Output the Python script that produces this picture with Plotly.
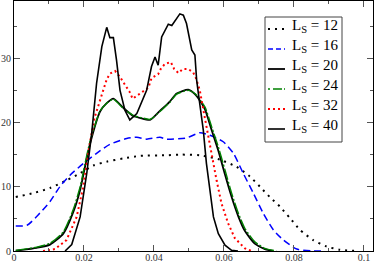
import plotly.graph_objects as go

# ---- data ----
x12 = [0.0005, 0.0055, 0.0103, 0.015, 0.0189, 0.0227, 0.0265, 0.0312, 0.036, 0.0436, 0.0474, 0.0531,
       0.0589, 0.0636, 0.0674, 0.0703, 0.0731, 0.076, 0.0789, 0.0817, 0.0855, 0.0893, 0.0931, 0.098]
y12 = [8.4, 9.0, 9.8, 11.0, 12.1, 13.3, 13.9, 14.4, 14.8, 14.9, 15.0, 14.9,
       14.2, 13.1, 11.6, 10.0, 8.4, 6.9, 5.1, 3.3, 1.7, 0.7, 0.2, 0.0]

x16 = [0.0005, 0.0037, 0.0074, 0.0103, 0.0131, 0.016, 0.0198, 0.0236, 0.0274, 0.0322, 0.0351, 0.0379,
       0.0417, 0.0436, 0.0493, 0.0531, 0.056, 0.0598, 0.0627, 0.0655, 0.0684, 0.0712, 0.0741, 0.077,
       0.0808, 0.0855, 0.0883]
y16 = [3.9, 4.0, 5.9, 7.7, 10.0, 11.8, 13.6, 15.2, 16.6, 17.5, 17.7, 17.4,
       17.7, 17.4, 17.6, 18.4, 18.0, 17.0, 15.2, 12.1, 9.0, 5.9, 3.3, 1.7,
       0.3, 0.0, 0.0]

x20 = [0.0005, 0.0065, 0.0103, 0.0141, 0.0169, 0.0189, 0.0203, 0.0217, 0.0246, 0.0265, 0.0284, 0.0312,
       0.0341, 0.036, 0.0389, 0.0417, 0.0446, 0.0465, 0.0498, 0.0517, 0.0531, 0.0546, 0.0565, 0.0584,
       0.0603, 0.0622, 0.0641, 0.066, 0.0689, 0.0717, 0.074]
y20 = [0.05, 0.5, 1.0, 2.7, 6.0, 9.5, 13.1, 16.6, 21.7, 23.0, 23.7, 22.3,
       21.0, 20.7, 20.4, 21.8, 23.3, 24.5, 25.1, 24.4, 23.4, 22.0, 18.8, 15.6,
       11.9, 8.4, 5.4, 3.1, 1.1, 0.3, 0.0]

x24 = [0.0005, 0.0065, 0.0103, 0.0141, 0.0169, 0.0189, 0.0203, 0.0217, 0.0246, 0.0265, 0.0284, 0.0312,
       0.0341, 0.036, 0.0389, 0.0417, 0.0446, 0.0465, 0.0498, 0.0517, 0.0531, 0.0546, 0.0565, 0.0584,
       0.0603, 0.0622, 0.0641, 0.066, 0.0689, 0.0717, 0.075]
y24 = [0.1, 0.6, 1.2, 3.0, 6.4, 10.0, 13.6, 17.0, 21.8, 23.0, 23.6, 22.2,
       21.1, 20.8, 20.5, 21.7, 23.2, 24.4, 25.0, 24.5, 23.6, 22.4, 19.3, 16.2,
       12.6, 9.0, 5.9, 3.5, 1.4, 0.4, 0.0]

x32 = [0.0083, 0.0117, 0.015, 0.0179, 0.0198, 0.0217, 0.0231, 0.0246, 0.0255, 0.0265, 0.0274, 0.0289,
       0.0303, 0.0312, 0.033, 0.0339, 0.0355, 0.037, 0.0384, 0.0393, 0.0412, 0.0419, 0.0431, 0.0448,
       0.0458, 0.047, 0.0482, 0.0498, 0.0512, 0.052, 0.0531, 0.0541, 0.055, 0.0565, 0.0579, 0.0593,
       0.0612, 0.0631, 0.066, 0.068]
y32 = [0.0, 0.3, 1.7, 5.3, 10.0, 16.8, 20.9, 23.7, 25.0, 26.7, 27.6, 28.0,
       27.1, 26.3, 24.8, 23.7, 24.3, 24.8, 25.4, 26.9, 27.5, 28.3, 29.1, 29.4,
       28.3, 27.7, 28.3, 28.3, 27.8, 26.9, 25.0, 22.0, 19.3, 15.2, 11.0, 7.4,
       4.3, 2.0, 0.4, 0.0]

x40 = [0.0146, 0.0165, 0.0189, 0.0208, 0.0222, 0.0236, 0.0251, 0.0265, 0.0274, 0.0284, 0.0293, 0.0303,
       0.0317, 0.0331, 0.0351, 0.0379, 0.0393, 0.0403, 0.0412, 0.0422, 0.0441, 0.0451, 0.0474, 0.0484,
       0.0493, 0.0503, 0.0508, 0.0517, 0.0522, 0.0527, 0.0541, 0.055, 0.056, 0.057, 0.0584, 0.0603,
       0.0622, 0.064]
y40 = [0.0, 1.0, 5.3, 12.1, 18.3, 26.1, 31.8, 34.8, 33.2, 33.2, 29.7, 25.0,
       21.9, 20.4, 21.4, 25.0, 28.7, 30.2, 28.9, 33.3, 35.3, 35.1, 36.9, 36.7,
       35.4, 32.3, 31.3, 30.5, 26.6, 24.5, 18.8, 13.6, 9.0, 5.3, 2.7, 0.9,
       0.1, 0.0]

labels = ["12", "16", "20", "24", "32", "40"]
colors = ["black", "#0000ff", "black", "#008000", "#ff0000", "black"]
dashes = ["2px,5px", "7px,4px", "solid", "12px,2px,2px,2px", "2px,3px", "solid"]
legend_dashes = ["2px,5px", "5px,3px", "solid", "2px,3px,9px", "2px,3px", "solid"]
widths = [2, 1.5, 1.8, 1.4, 2, 1.6]
shapes_kind = ["spline", "spline", "spline", "spline", "linear", "linear"]

xs = [x12, x16, x20, x24, x32, x40]
ys = [y12, y16, y20, y24, y32, y40]

fig = go.Figure()
for x, y, lab, c, d, w, sh in zip(xs, ys, labels, colors, dashes, widths, shapes_kind):
    fig.add_trace(go.Scatter(
        x=x, y=y, mode="lines", name="L_S = " + lab,
        line=dict(color=c, dash=d, width=w, shape=sh, smoothing=0.6),
        showlegend=False, hoverinfo="skip"))

# ---- legend drawn by hand (box, samples, text) ----
W_PLOT, H_PLOT = 359.0, 250.0
L0, B0 = 14.0, 251.0
def px_x(p):
    return (p - L0) / W_PLOT
def px_y(p):
    return (B0 - p) / H_PLOT

shapes = [dict(type="rect", xref="paper", yref="paper",
               x0=px_x(265), x1=px_x(342), y0=px_y(142), y1=px_y(17),
               line=dict(color="#444", width=1), fillcolor="white", layer="above")]
annotations = []
row_y = [29, 49, 69, 89, 109, 129]
for i, lab in enumerate(labels):
    yy = px_y(row_y[i])
    shapes.append(dict(type="line", xref="paper", yref="paper",
                       x0=px_x(268), x1=px_x(285), y0=yy, y1=yy,
                       line=dict(color=colors[i], dash=legend_dashes[i], width=widths[i]),
                       layer="above"))
    annotations.append(dict(xref="paper", yref="paper", x=px_x(290), y=px_y(row_y[i] - 3),
                            xanchor="left", yanchor="middle", showarrow=False,
                            text="L<sub>S</sub> = " + lab,
                            font=dict(family="Liberation Serif", size=15, color="black")))

axis_common = dict(
    showgrid=False, zeroline=False, showline=True, linecolor="black", linewidth=1,
    mirror="ticks", ticks="inside", ticklen=6, tickwidth=1, tickcolor="#555",
    automargin=False,
    tickfont=dict(family="Liberation Serif", size=10, color="#333"),
)

fig.update_layout(
    width=374, height=263,
    margin=dict(l=14, r=1, t=1, b=12),
    paper_bgcolor="white", plot_bgcolor="white",
    shapes=shapes, annotations=annotations,
    hovermode=False, dragmode=False,
    xaxis=dict(range=[0, 0.1026], tickvals=[0, 0.02, 0.04, 0.06, 0.08, 0.1],
               ticktext=["0", "0.02", "0.04", "0.06", "0.08", "0.1"],
               minor=dict(dtick=0.01, ticks="inside", ticklen=3, tickcolor="#555"),
               ticklabelstandoff=-3,
               **axis_common),
    yaxis=dict(range=[0, 38.9], tickvals=[0, 10, 20, 30], ticktext=["0", "10", "20", "30"],
               minor=dict(dtick=5, ticks="inside", ticklen=3, tickcolor="#555"),
               ticklabelstandoff=0,
               **axis_common),
)

fig.write_html("out.html", config={"displayModeBar": False, "staticPlot": True},
               post_script="document.body.style.margin='0';document.body.style.overflow='hidden';")
